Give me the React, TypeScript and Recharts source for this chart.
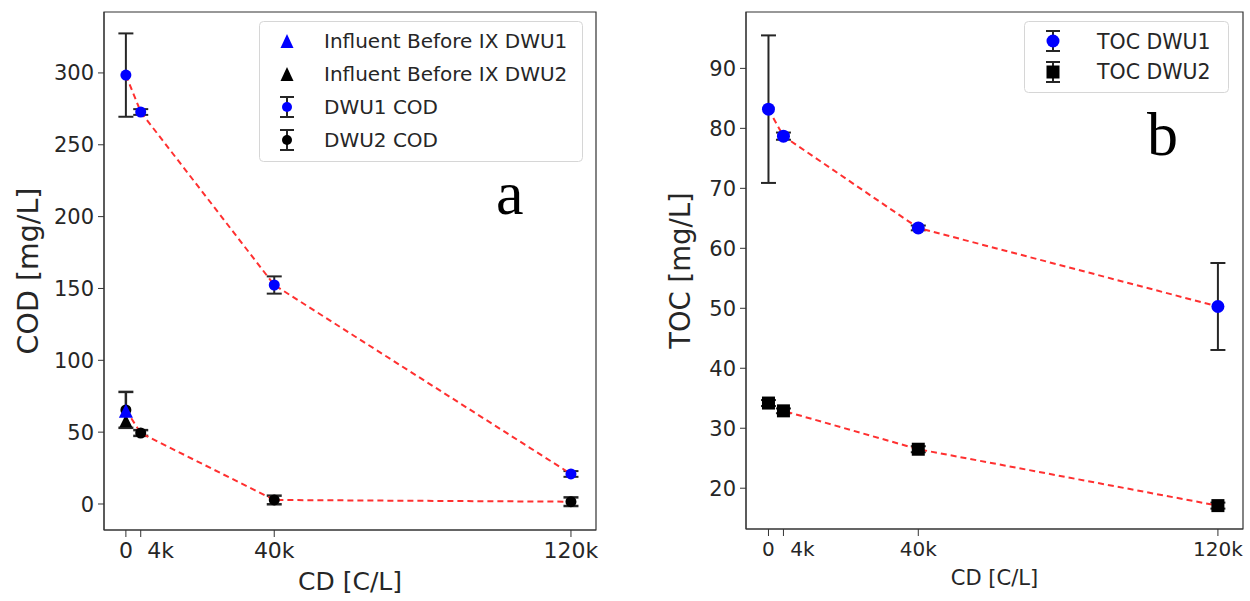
import React from 'react';
import {
  ComposedChart,
  Scatter,
  XAxis,
  YAxis,
  ErrorBar,
  ReferenceArea,
  Legend,
} from 'recharts';

// ---- data -------------------------------------------------------------
// CD values are in thousands of C/L
const codCd = [0, 4, 40, 120];
const dwu1Cod = [298.5, 272.8, 152.4, 20.9];
const dwu1CodErr = [29, 2, 6, 2];
const dwu2Cod = [65.5, 49.4, 2.8, 1.6];
const dwu2CodErr = [12.5, 2, 3, 3];

const influentCd = [0];
const influentDwu1 = [64];
const influentDwu2 = [57];

const tocCd = [0, 4, 40, 120];
const tocDwu1 = [83.2, 78.7, 63.4, 50.3];
const tocDwu1Err = [12.3, 0.6, 0.4, 7.25];
const tocDwu2 = [34.2, 32.9, 26.5, 17.1];
const tocDwu2Err = [0.5, 0.4, 0.5, 0.5];

const cdTicks = [0, 4, 40, 120];
const codTicks = [0, 50, 100, 150, 200, 250, 300];
const tocTicks = [20, 30, 40, 50, 60, 70, 80, 90];

// ---- helpers ------------------------------------------------------------
const rows = (xs: number[], ys: number[], es?: number[]) =>
  xs.map((x, i) => ({ x, y: ys[i], err: es ? es[i] : 0 }));

const FONT = 'DejaVu Sans';
const INK = '#262626';
const RED = '#ff3030';
const BLUE = '#0000ff';

const codXDomain: [number, number] = [-5.9, 126.75];
const codYDomain: [number, number] = [-18.1, 342.4];
const tocXDomain: [number, number] = [-6.0, 126.7];
const tocYDomain: [number, number] = [13.2, 99.4];

const cdLabel = (v: number) => (v === 0 ? '0' : `${v}k`);

const dot = (r: number, fill: string) => (p: any) =>
  <circle cx={p.cx} cy={p.cy} r={r} fill={fill} />;
const square = (s: number, fill: string) => (p: any) =>
  <rect x={p.cx - s / 2} y={p.cy - s / 2} width={s} height={s} fill={fill} />;
const triangle = (s: number, fill: string) => (p: any) => (
  <polygon
    points={`${p.cx},${p.cy - s * 0.6} ${p.cx - s / 2},${p.cy + s * 0.4} ${p.cx + s / 2},${p.cy + s * 0.4}`}
    fill={fill}
  />
);

const makeCdTick = (fontSize: number, shift4k: number) => (p: any) => (
  <text
    x={p.x + (p.payload.value === 4 ? shift4k : 0)}
    y={p.y}
    dy="0.74em"
    textAnchor="middle"
    fontSize={fontSize}
    fontFamily={FONT}
    fill={INK}
  >
    {cdLabel(p.payload.value)}
  </text>
);

const makeYTick = (fontSize: number) => (p: any) => (
  <text
    x={p.x}
    y={p.y}
    dy="0.36em"
    textAnchor="end"
    fontSize={fontSize}
    fontFamily={FONT}
    fill={INK}
  >
    {p.payload.value}
  </text>
);

const lineStyle = { stroke: RED, strokeWidth: 2, strokeDasharray: '6 4' };

// legend glyph with an error bar through it
const ErrGlyph = ({ x, y, children }: { x: number; y: number; children: React.ReactNode }) => (
  <g>
    <line x1={x} y1={y - 10} x2={x} y2={y + 10} stroke={INK} strokeWidth={2} />
    <line x1={x - 7} y1={y - 10} x2={x + 7} y2={y - 10} stroke={INK} strokeWidth={2} />
    <line x1={x - 7} y1={y + 10} x2={x + 7} y2={y + 10} stroke={INK} strokeWidth={2} />
    {children}
  </g>
);

const CodLegend = () => (
  <svg width={324} height={141} style={{ display: 'block' }}>
    <rect x={0.5} y={0.5} width={323} height={140} rx={4} fill="#fff" fillOpacity={0.85} stroke="#d6d6d6" />
    <polygon points="28,13 21.5,27 34.5,27" fill={BLUE} />
    <polygon points="28,46 21.5,60 34.5,60" fill="#000" />
    <ErrGlyph x={28} y={86}>
      <circle cx={28} cy={86} r={5} fill={BLUE} />
    </ErrGlyph>
    <ErrGlyph x={28} y={119}>
      <circle cx={28} cy={119} r={5} fill="#000" />
    </ErrGlyph>
    {['Influent Before IX DWU1', 'Influent Before IX DWU2', 'DWU1 COD', 'DWU2 COD'].map((t, i) => (
      <text key={t} x={65} y={26.5 + i * 33.3} fontSize={20} fontFamily={FONT} fill={INK}>
        {t}
      </text>
    ))}
  </svg>
);

const TocLegend = () => (
  <svg width={205} height={72} style={{ display: 'block' }}>
    <rect x={0.5} y={0.5} width={204} height={71} rx={4} fill="#fff" fillOpacity={0.85} stroke="#d6d6d6" />
    <ErrGlyph x={29} y={20}>
      <circle cx={29} cy={20} r={6.5} fill={BLUE} />
    </ErrGlyph>
    <ErrGlyph x={29} y={51}>
      <rect x={22.5} y={44.5} width={13} height={13} fill="#000" />
    </ErrGlyph>
    {['TOC DWU1', 'TOC DWU2'].map((t, i) => (
      <text key={t} x={73} y={28 + i * 30} fontSize={20.5} fontFamily={FONT} fill={INK}>
        {t}
      </text>
    ))}
  </svg>
);

const yLabel = (text: string, x: number, fontSize: number) => (p: any) => {
  const vb = p.viewBox;
  const cy = vb.y + vb.height / 2;
  return (
    <text
      x={x}
      y={cy}
      transform={`rotate(-90 ${x} ${cy})`}
      textAnchor="middle"
      fontSize={fontSize}
      fontFamily={FONT}
      fill={INK}
    >
      {text}
    </text>
  );
};

const xLabel = (text: string, dy: number, fontSize: number) => (p: any) => {
  const vb = p.viewBox;
  return (
    <text
      x={vb.x + vb.width / 2}
      y={vb.y + dy}
      textAnchor="middle"
      fontSize={fontSize}
      fontFamily={FONT}
      fill={INK}
    >
      {text}
    </text>
  );
};

const panelLetter = (left: number, top: number): React.CSSProperties => ({
  position: 'absolute',
  left,
  top,
  fontFamily: 'Liberation Serif',
  fontSize: 62,
  lineHeight: '62px',
  color: '#000',
});

export default function App() {
  return (
    <div style={{ position: 'absolute', left: 0, top: 0, width: 1250, height: 601, background: '#fff' }}>
      {/* panel a: COD */}
      <div style={{ position: 'absolute', left: 0, top: 0 }}>
        <ComposedChart width={620} height={601} margin={{ top: 12, right: 24, bottom: 21, left: 44 }}>
          <XAxis
            type="number"
            dataKey="x"
            domain={codXDomain}
            ticks={cdTicks}
            allowDataOverflow
            height={50}
            tickSize={7}
            tickMargin={5}
            stroke="#333"
            tick={makeCdTick(22, 20)}
            label={{ content: xLabel('CD [C/L]', 60, 25) }}
          />
          <YAxis
            type="number"
            dataKey="y"
            domain={codYDomain}
            ticks={codTicks}
            allowDataOverflow
            width={60}
            tickSize={6}
            tickMargin={4}
            stroke="#333"
            tick={makeYTick(21)}
            label={{ content: yLabel('COD [mg/L]', 38, 28.5) }}
          />
          <ReferenceArea
            x1={codXDomain[0]}
            x2={codXDomain[1]}
            y1={codYDomain[0]}
            y2={codYDomain[1]}
            fill="none"
            stroke="#333"
            strokeWidth={1.2}
            ifOverflow="visible"
          />
          <Scatter
            name="DWU1 COD"
            data={rows(codCd, dwu1Cod, dwu1CodErr)}
            line={lineStyle}
            shape={dot(5.5, BLUE)}
            isAnimationActive={false}
          >
            <ErrorBar dataKey="err" direction="y" width={7.5} stroke={INK} strokeWidth={2} />
          </Scatter>
          <Scatter
            name="DWU2 COD"
            data={rows(codCd, dwu2Cod, dwu2CodErr)}
            line={lineStyle}
            shape={dot(5.5, '#000')}
            isAnimationActive={false}
          >
            <ErrorBar dataKey="err" direction="y" width={7.5} stroke={INK} strokeWidth={2.5} />
          </Scatter>
          <Scatter
            name="Influent Before IX DWU2"
            data={rows(influentCd, influentDwu2)}
            shape={triangle(13, '#000')}
            isAnimationActive={false}
          />
          <Scatter
            name="Influent Before IX DWU1"
            data={rows(influentCd, influentDwu1)}
            shape={triangle(14, BLUE)}
            isAnimationActive={false}
          />
          <Legend
            layout="horizontal"
            verticalAlign="middle"
            align="center"
            wrapperStyle={{ left: 259, top: 21, width: 324, height: 141 }}
            content={() => <CodLegend />}
          />
        </ComposedChart>
        <div style={panelLetter(496, 162)}>a</div>
      </div>

      {/* panel b: TOC */}
      <div style={{ position: 'absolute', left: 620, top: 0, width: 630, height: 601 }}>
        <ComposedChart width={630} height={601} margin={{ top: 12, right: 7, bottom: 22, left: 66 }}>
          <XAxis
            type="number"
            dataKey="x"
            domain={tocXDomain}
            ticks={cdTicks}
            allowDataOverflow
            height={50}
            tickSize={7}
            tickMargin={5}
            stroke="#333"
            tick={makeCdTick(20, 19)}
            label={{ content: xLabel('CD [C/L]', 56, 21) }}
          />
          <YAxis
            type="number"
            dataKey="y"
            domain={tocYDomain}
            ticks={tocTicks}
            allowDataOverflow
            width={60}
            tickSize={6}
            tickMargin={4}
            stroke="#333"
            tick={makeYTick(21)}
            label={{ content: yLabel('TOC [mg/L]', 690 - 620, 27.5) }}
          />
          <ReferenceArea
            x1={tocXDomain[0]}
            x2={tocXDomain[1]}
            y1={tocYDomain[0]}
            y2={tocYDomain[1]}
            fill="none"
            stroke="#333"
            strokeWidth={1.2}
            ifOverflow="visible"
          />
          <Scatter
            name="TOC DWU1"
            data={rows(tocCd, tocDwu1, tocDwu1Err)}
            line={lineStyle}
            shape={dot(6.5, BLUE)}
            isAnimationActive={false}
          >
            <ErrorBar dataKey="err" direction="y" width={7.5} stroke={INK} strokeWidth={2} />
          </Scatter>
          <Scatter
            name="TOC DWU2"
            data={rows(tocCd, tocDwu2, tocDwu2Err)}
            line={lineStyle}
            shape={square(13, '#000')}
            isAnimationActive={false}
          >
            <ErrorBar dataKey="err" direction="y" width={7.5} stroke={INK} strokeWidth={2} />
          </Scatter>
          <Legend
            layout="horizontal"
            verticalAlign="middle"
            align="center"
            wrapperStyle={{ left: 404, top: 21, width: 205, height: 72 }}
            content={() => <TocLegend />}
          />
        </ComposedChart>
        <div style={panelLetter(1147 - 620, 103)}>b</div>
      </div>
    </div>
  );
}
